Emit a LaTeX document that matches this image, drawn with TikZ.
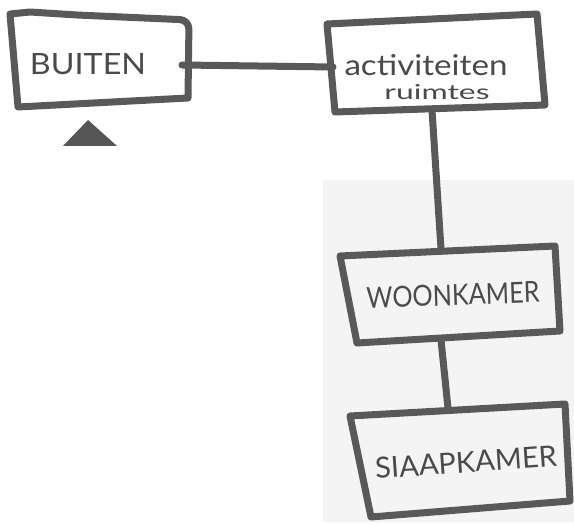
\documentclass[tikz,border=0pt]{standalone}
\usepackage{fontspec}
\setmainfont{Lato}
\definecolor{lc}{HTML}{595959}
\definecolor{tc}{HTML}{4A4A4A}
\definecolor{bg}{HTML}{F4F4F4}
\tikzset{
  boxline/.style={draw=lc, line width=7pt, line join=round, line cap=round},
  conn/.style={draw=lc, line width=7pt, line cap=round},
  lbl/.style={text=tc, inner sep=0pt, anchor=center}
}
\begin{document}
\begin{tikzpicture}[x=1pt,y=-1pt]
\useasboundingbox (0,0) rectangle (574,526);
\fill[white] (0,0) rectangle (574,526);
% grey backdrop
\fill[bg] (323,180) rectangle (574,522);

% box outlines
\draw[boxline] (10,14) -- (30,12) -- (77,15) [rounded corners=9pt] -- (189,20) [sharp corners] -- (188,98) -- (18,107) -- cycle;
\draw[boxline] (327,24) -- (537,14) -- (545,105) -- (335,112) -- cycle;
\draw[boxline] (340,256) -- (555,246) -- (560,331) -- (357,343) -- cycle;
\draw[boxline] (350,416) -- (565,404) -- (570,501) -- (371,517) -- cycle;

% connection points
\coordinate (bR) at (182,65);
\coordinate (aL) at (333,67);
\coordinate (aB) at (432,110);
\coordinate (wT) at (441,249);
\coordinate (wB) at (441,340);
\coordinate (sT) at (448,408);

\draw[conn] (bR) -- (aL);
\draw[conn] (aB) -- (wT);
\draw[conn] (wB) -- (sT);

% triangle marker
\fill[lc!95!black] (88,120) -- (117,146) -- (63,146) -- cycle;

% labels
\node[lbl] (buiten) at (88,64) {\resizebox{116pt}{21pt}{BUITEN}};
\node[lbl] (act1) at (426,65) {\resizebox{163pt}{21pt}{activiteiten}};
\node[lbl] (act2) at (437,92) {\resizebox{105pt}{15pt}{ruimtes}};
\node[lbl, rotate=2] (woon) at (453,295) {\resizebox{173pt}{21pt}{WOONKAMER}};
\node[lbl, rotate=4] (slaap) at (466,462) {\resizebox{182pt}{21pt}{SIAAPKAMER}};
\end{tikzpicture}
\end{document}
